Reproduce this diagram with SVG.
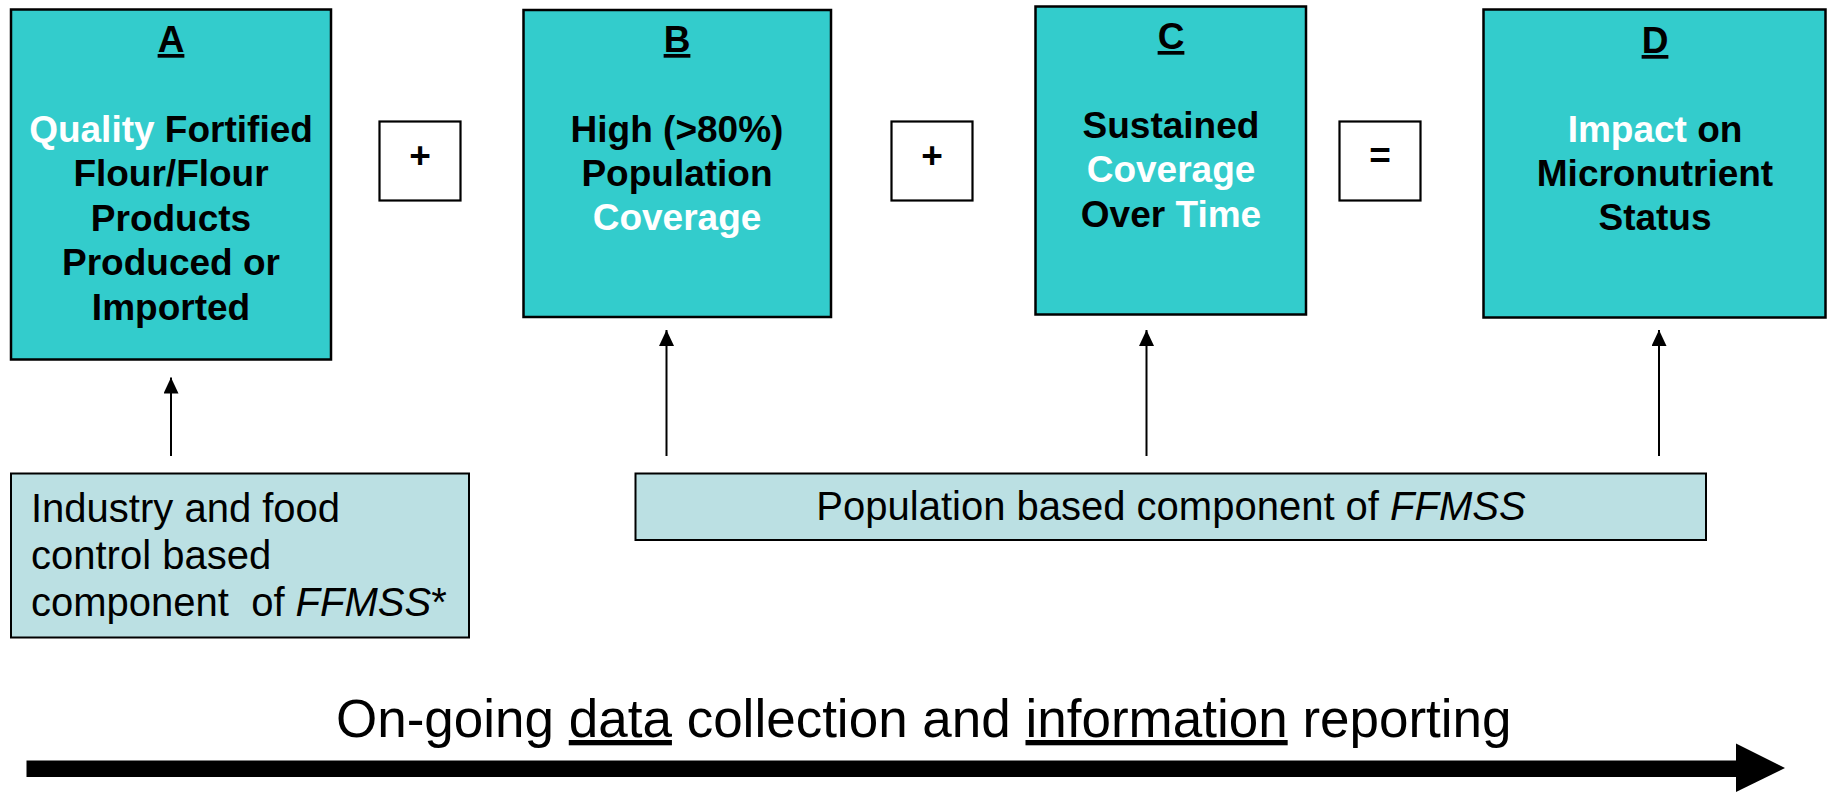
<svg xmlns="http://www.w3.org/2000/svg" width="1829" height="793" viewBox="0 0 1829 793">
<style>
.main{fill:#33CCCC;stroke:#000;stroke-width:2.5}
.op{fill:#fff;stroke:#000;stroke-width:2.2}
.comp{fill:#BBE0E3;stroke:#000;stroke-width:2}
.b{font-family:"Liberation Sans",Arial,sans-serif;font-weight:bold;font-size:37px;fill:#000;text-anchor:middle}
.w{fill:#fff}
.r{font-family:"Liberation Sans",Arial,sans-serif;font-size:40px;fill:#000}
.u{text-decoration:underline}
.conn{stroke:#000;stroke-width:2;fill:none;marker-end:url(#ah)}
</style>
<defs>
<marker id="ah" markerUnits="userSpaceOnUse" markerWidth="16" markerHeight="16" refX="16" refY="7.5" orient="auto">
<path d="M0,0 L16,7.5 L0,15 z" fill="#000"/>
</marker>
</defs>
<g id="nodeA">
<rect class="main" x="11" y="9.5" width="320" height="350"/>
<text class="b u" x="171" y="52">A</text>
<text class="b" x="171" y="141.5"><tspan class="w">Quality</tspan> Fortified</text>
<text class="b" x="171" y="186">Flour/Flour</text>
<text class="b" x="171" y="230.5">Products</text>
<text class="b" x="171" y="275">Produced or</text>
<text class="b" x="171" y="319.5">Imported</text>
</g>
<g id="plus1">
<rect class="op" x="379.5" y="121.5" width="81" height="79"/>
<text class="b" x="420" y="168">+</text>
</g>
<g id="nodeB">
<rect class="main" x="523.5" y="10" width="307.5" height="307"/>
<text class="b u" x="677" y="52">B</text>
<text class="b" x="677" y="141.5">High (&gt;80%)</text>
<text class="b" x="677" y="186">Population</text>
<text class="b w" x="677" y="230">Coverage</text>
</g>
<g id="plus2">
<rect class="op" x="891.5" y="121.5" width="81" height="79"/>
<text class="b" x="932" y="168">+</text>
</g>
<g id="nodeC">
<rect class="main" x="1035.5" y="6.5" width="270.5" height="308"/>
<text class="b u" x="1171" y="49">C</text>
<text class="b" x="1171" y="137.5">Sustained</text>
<text class="b w" x="1171" y="182">Coverage</text>
<text class="b" x="1171" y="226.5">Over <tspan class="w">Time</tspan></text>
</g>
<g id="equals">
<rect class="op" x="1339.5" y="121.5" width="81" height="79"/>
<text class="b" x="1380" y="168">=</text>
</g>
<g id="nodeD">
<rect class="main" x="1483.5" y="9.5" width="342" height="308"/>
<text class="b u" x="1655" y="53">D</text>
<text class="b" x="1655" y="141.5"><tspan class="w">Impact</tspan> on</text>
<text class="b" x="1655" y="185.5">Micronutrient</text>
<text class="b" x="1655" y="230">Status</text>
</g>
<g id="industry">
<rect class="comp" x="11" y="473.5" width="458" height="164"/>
<text class="r" x="31" y="521.5">Industry and food</text>
<text class="r" x="31" y="569">control based</text>
<text class="r" x="31" y="616" xml:space="preserve">component  of <tspan font-style="italic">FFMSS</tspan>*</text>
</g>
<g id="population">
<rect class="comp" x="635.5" y="473.5" width="1070.5" height="66.5"/>
<text class="r" x="1171" y="520" text-anchor="middle">Population based component of <tspan font-style="italic">FFMSS</tspan></text>
</g>
<g id="connectors">
<line class="conn" x1="171" y1="456" x2="171" y2="377.5"/>
<line class="conn" x1="666.5" y1="456" x2="666.5" y2="330"/>
<line class="conn" x1="1146.5" y1="456" x2="1146.5" y2="330"/>
<line class="conn" x1="1659" y1="456" x2="1659" y2="330"/>
</g>
<g id="timeline">
<text x="336" y="737" font-family="Liberation Sans, Arial, sans-serif" font-size="53" fill="#000">On-going <tspan class="u">data</tspan> collection and <tspan class="u">information</tspan> reporting</text>
<rect x="26.5" y="760.5" width="1711" height="16.5" fill="#000"/>
<polygon points="1736,743.5 1785,768 1736,792" fill="#000"/>
</g>
</svg>
